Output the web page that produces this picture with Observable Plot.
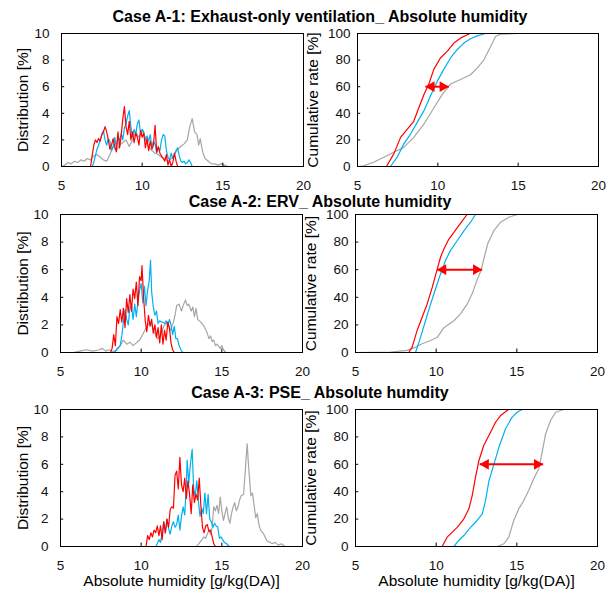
<!DOCTYPE html>
<html><head><meta charset="utf-8">
<script src="https://cdn.jsdelivr.net/npm/d3@7"></script>
<script src="https://cdn.jsdelivr.net/npm/@observablehq/plot@0.6"></script>
<style>
body{margin:0;background:#fff;}
#wrap{position:relative;width:609px;height:590px;background:#fff;overflow:hidden;}
.panel{position:absolute;}
.title{position:absolute;left:320px;transform:translateX(-50%);white-space:nowrap;font:bold 16px "Liberation Sans",Arial,sans-serif;color:#000;line-height:15px;}
</style></head><body><div id="wrap"></div>
<script>
// ---------- data ----------
const titles = ["Case A-1: Exhaust-only ventilation_ Absolute humidity", "Case A-2: ERV_ Absolute humidity", "Case A-3: PSE_ Absolute humdity"];
const xLabel = "Absolute humidity [g/kg(DA)]";
const distLabel = "Distribution [%]";
const cumLabel = "Cumulative rate [%]";
const xTicks = [5, 10, 15, 20];
const distTicks = [0, 2, 4, 6, 8, 10];
const cumTicks = [0, 20, 40, 60, 80, 100];

// Case A-1 distributions [x, %]
const distA1Grey = [[5.0,0],[5.2,0.1],[5.4,0.3],[5.6,0.2],[5.8,0.4],[6.0,0.3],[6.2,0.5],[6.4,0.4],[6.6,0.6],[6.8,0.5],[7.0,0.8],[7.2,0.9],[7.4,0.7],[7.6,0.5],[7.8,0.4],[8.0,0.9],[8.2,1.5],[8.4,1.2],[8.6,1.6],[8.8,1.8],[9.0,2.0],[9.2,1.5],[9.4,2.0],[9.6,2.6],[9.8,2.2],[10.0,2.7],[10.2,2.0],[10.4,1.5],[10.6,1.2],[10.8,1.0],[11.0,0.9],[11.2,0.7],[11.4,0.6],[11.6,0.4],[11.8,0.6],[12.0,0.9],[12.2,1.3],[12.4,1.5],[12.6,1.7],[12.8,2.0],[12.95,3.0],[13.1,3.6],[13.25,2.6],[13.4,2.4],[13.5,1.6],[13.6,2.1],[13.75,1.1],[13.9,0.6],[14.1,0.4],[14.3,0.2],[14.5,0.2],[14.7,0.1],[14.9,0.2],[15.1,0.1],[15.3,0],[20,0]];
const distA1Blue = [[5,0],[6.9,0],[7.0,0.3],[7.1,0.8],[7.2,1.3],[7.3,1.6],[7.4,2.0],[7.5,2.4],[7.6,2.7],[7.7,2.0],[7.8,1.6],[7.9,2.1],[8.0,1.9],[8.1,1.2],[8.2,1.5],[8.3,2.2],[8.4,1.4],[8.5,2.3],[8.6,1.9],[8.7,2.5],[8.8,2.0],[8.9,2.9],[9.0,3.2],[9.1,3.8],[9.2,4.2],[9.3,3.0],[9.4,2.2],[9.5,2.8],[9.6,2.4],[9.7,3.2],[9.8,3.5],[9.9,2.5],[10.0,2.8],[10.1,2.6],[10.2,2.0],[10.3,2.3],[10.4,1.9],[10.5,2.4],[10.6,1.5],[10.7,1.9],[10.8,1.7],[10.9,1.0],[11.0,1.4],[11.1,1.2],[11.2,2.0],[11.3,2.4],[11.4,2.3],[11.5,1.2],[11.6,0.7],[11.7,0.5],[11.8,1.0],[11.9,0.6],[12.0,0.9],[12.1,1.2],[12.2,1.4],[12.3,0.8],[12.4,0.4],[12.5,0.3],[12.6,0.4],[12.7,0.2],[12.8,0.3],[12.9,0.5],[13.0,0.3],[13.1,0],[20,0]];
const distA1Red = [[6.8,0],[6.9,0.8],[7.0,1.6],[7.1,2.0],[7.2,1.8],[7.3,2.1],[7.4,1.9],[7.5,2.4],[7.6,2.6],[7.7,3.0],[7.8,2.6],[7.9,2.0],[8.0,1.3],[8.1,1.6],[8.2,2.1],[8.3,1.5],[8.4,1.1],[8.5,2.6],[8.6,1.4],[8.7,2.3],[8.8,3.6],[8.9,4.5],[9.0,3.0],[9.1,2.4],[9.2,3.4],[9.3,2.0],[9.4,2.6],[9.5,1.8],[9.6,2.5],[9.7,2.2],[9.8,1.6],[9.9,2.7],[10.0,2.2],[10.1,2.5],[10.2,1.4],[10.3,2.1],[10.4,1.2],[10.5,1.9],[10.6,1.3],[10.7,1.6],[10.8,3.1],[10.9,1.1],[11.0,1.5],[11.1,1.0],[11.2,0.8],[11.3,0.6],[11.4,0.4],[11.5,0.9],[11.6,0.1],[11.7,0.5],[11.8,0.0],[11.9,0.3],[12.0,1.0],[12.1,0.4],[12.2,0],[20,0]];

// Case A-2 distributions
const distA2Grey = [[5,0],[5.8,0],[6.2,0.1],[6.6,0.2],[7.0,0.1],[7.4,0.2],[7.6,0.3],[7.8,0.1],[8.0,0.2],[8.2,0.1],[8.4,0.1],[8.5,0.3],[8.7,0.5],[8.9,0.9],[9.1,0.6],[9.3,0.75],[9.5,0.5],[9.7,0.7],[9.9,0.9],[10.1,1.3],[10.3,1.8],[10.5,2.1],[10.6,2.2],[10.8,1.5],[11.0,1.0],[11.2,1.2],[11.4,1.9],[11.6,2.2],[11.8,1.6],[12.0,2.2],[12.1,2.7],[12.2,3.4],[12.35,3.5],[12.5,3.0],[12.6,3.4],[12.75,3.8],[12.85,3.4],[12.95,3.5],[13.1,3.0],[13.2,3.3],[13.3,2.6],[13.4,3.2],[13.5,2.4],[13.7,2.2],[13.9,1.9],[14.1,1.4],[14.2,1.0],[14.3,1.2],[14.4,0.8],[14.5,0.9],[14.6,0.5],[14.7,0.6],[14.9,0.3],[15.0,0.5],[15.1,0.2],[15.25,0],[20,0]];
const distA2Blue = [[5,0],[8.3,0],[8.5,0.2],[8.7,0.5],[8.8,1.2],[8.9,2.2],[9.0,3.1],[9.1,2.4],[9.2,2.0],[9.3,3.2],[9.4,3.4],[9.5,2.4],[9.6,3.5],[9.7,2.6],[9.8,3.7],[9.9,4.5],[10.0,5.0],[10.1,3.6],[10.2,4.8],[10.3,3.4],[10.4,4.5],[10.5,5.2],[10.58,6.7],[10.65,4.4],[10.75,3.3],[10.85,2.7],[10.95,3.0],[11.05,2.1],[11.15,2.3],[11.25,2.2],[11.35,2.2],[11.45,2.1],[11.55,2.3],[11.65,1.9],[11.75,2.4],[11.85,2.0],[11.95,1.3],[12.05,1.9],[12.15,1.0],[12.25,1.0],[12.35,0.5],[12.5,0.1],[12.6,0],[20,0]];
const distA2Red = [[5,0],[8.1,0],[8.2,0.3],[8.3,1.3],[8.4,0.5],[8.5,2.6],[8.6,2.1],[8.7,3.1],[8.8,2.2],[8.9,3.2],[9.0,1.8],[9.1,3.9],[9.2,2.9],[9.3,4.2],[9.4,3.0],[9.5,4.6],[9.6,3.9],[9.7,5.1],[9.8,3.4],[9.9,5.5],[10.0,5.2],[10.05,6.3],[10.15,4.0],[10.25,2.3],[10.35,1.5],[10.45,2.7],[10.55,1.9],[10.65,2.4],[10.75,1.4],[10.85,2.0],[10.95,1.1],[11.05,1.8],[11.15,0.7],[11.25,2.0],[11.35,0.6],[11.45,1.6],[11.55,0.9],[11.65,2.2],[11.75,1.8],[11.85,0.7],[11.95,0.2],[12.05,0],[20,0]];

// Case A-3 distributions
const distA3Grey = [[5,0],[13.4,0],[13.5,0.1],[13.7,0.4],[13.9,0.7],[14.0,0.6],[14.2,1.2],[14.3,0.9],[14.4,1.4],[14.5,2.9],[14.6,2.6],[14.7,3.0],[14.8,2.4],[14.9,3.6],[15.0,2.6],[15.1,1.9],[15.2,2.4],[15.3,2.9],[15.4,2.1],[15.5,1.7],[15.6,2.4],[15.7,2.9],[15.8,3.2],[15.9,2.6],[16.0,2.9],[16.1,3.4],[16.2,3.7],[16.35,3.8],[16.45,5.5],[16.57,7.5],[16.65,6.0],[16.72,4.9],[16.8,3.7],[16.9,3.9],[17.0,3.0],[17.1,2.1],[17.2,2.4],[17.3,1.6],[17.4,1.2],[17.6,0.9],[17.8,0.4],[18.0,0.3],[18.1,0.2],[18.3,0.3],[18.5,0.1],[18.7,0.2],[18.9,0],[20,0]];
const distA3Blue = [[5,0],[10.9,0],[11.0,0.2],[11.1,0.5],[11.2,0.3],[11.3,1.0],[11.4,1.8],[11.5,1.0],[11.6,2.0],[11.7,1.3],[11.8,0.9],[11.9,1.5],[12.0,1.8],[12.1,1.4],[12.2,1.6],[12.3,2.3],[12.4,1.2],[12.5,2.2],[12.6,2.9],[12.7,2.3],[12.8,4.5],[12.85,6.3],[12.95,4.6],[13.05,6.0],[13.16,7.1],[13.25,4.3],[13.35,3.6],[13.45,4.8],[13.55,3.3],[13.65,2.2],[13.75,2.8],[13.85,2.4],[13.95,3.9],[14.05,2.4],[14.15,3.8],[14.25,2.0],[14.35,1.8],[14.45,1.4],[14.55,1.7],[14.65,1.5],[14.75,1.4],[14.85,0.6],[14.95,0.7],[15.05,0.5],[15.15,0.3],[15.3,0.2],[15.45,0],[20,0]];
const distA3Red = [[5,0],[10.3,0],[10.4,0.8],[10.5,0.5],[10.6,1.0],[10.7,0.7],[10.8,1.2],[10.9,1.0],[11.0,1.5],[11.1,0.8],[11.2,1.5],[11.3,0.5],[11.4,1.8],[11.5,1.0],[11.6,2.0],[11.7,1.4],[11.8,2.7],[11.9,2.9],[12.0,2.8],[12.1,5.2],[12.2,5.5],[12.3,4.2],[12.4,6.5],[12.5,4.5],[12.6,4.0],[12.7,5.0],[12.8,3.5],[12.9,4.8],[13.0,3.8],[13.1,2.4],[13.2,4.5],[13.3,3.2],[13.4,3.8],[13.5,3.4],[13.6,5.0],[13.7,3.0],[13.8,1.4],[13.9,1.0],[14.0,1.5],[14.1,1.6],[14.2,1.1],[14.3,1.2],[14.4,0.7],[14.5,0.2],[14.6,0],[20,0]];

// Cumulative rates [x, %]
const cumA1Grey = [[5,0],[5.39,0.5],[6.0,3.2],[6.64,7],[7.26,10.7],[7.88,14.4],[8.5,21.9],[9.13,31.8],[9.75,44],[10.27,54],[10.79,62],[11.41,65.4],[12.03,69],[12.45,74],[12.86,80],[13.28,90],[13.59,97.8],[13.9,99.5],[14.94,100],[20,100]];
const cumA1Blue = [[5,0],[7.05,0],[7.47,7],[7.88,17],[8.3,24.4],[8.71,33],[9.13,41.8],[9.54,53],[9.96,64],[10.37,73],[10.79,81.6],[11.2,87.8],[11.62,92.8],[12.03,96],[12.45,98.2],[12.97,100],[20,100]];
const cumA1Red = [[5,0],[6.8,0],[7.26,9.5],[7.68,21.9],[8.09,28],[8.5,34],[8.81,44],[9.13,54],[9.44,62],[9.75,73],[10.16,81.6],[10.58,86.6],[11.0,92.8],[11.41,96.5],[11.83,99],[12.0,100],[20,100]];
const cumA2Grey = [[5,0],[7.17,0.3],[8.2,1.5],[8.72,3.9],[9.13,6.3],[9.65,8.7],[10.07,11],[10.48,18],[11.1,23],[11.51,28],[11.92,35],[12.23,42.5],[12.55,53],[12.8,60],[13.0,70],[13.2,79],[13.58,88.4],[13.99,94.4],[14.5,98],[15.03,100],[20,100]];
const cumA2Blue = [[5,0],[8.72,0],[9.03,11],[9.34,23],[9.65,35],[9.96,46],[10.27,57],[10.58,66.7],[10.89,74],[11.3,81],[11.71,88],[12.13,94.4],[12.44,100],[20,100]];
const cumA2Red = [[5,0],[8.3,0],[8.51,3.9],[8.82,16],[9.13,25.6],[9.44,35],[9.75,47],[10.07,60.6],[10.27,69],[10.48,75],[10.78,82],[11.1,87],[11.4,92],[11.71,96.9],[11.92,100],[20,100]];
const cumA3Grey = [[5,0],[13.78,0],[14.2,2],[14.5,6.8],[14.81,19],[15.12,27.5],[15.43,33.6],[15.74,41],[16.05,49.4],[16.36,56.7],[16.57,68.8],[16.78,82],[17.09,92],[17.4,98],[17.91,100],[20,100]];
const cumA3Blue = [[5,0],[11.1,0],[11.4,4.4],[11.71,8],[12.13,14],[12.54,19],[12.86,23.8],[13.06,33.6],[13.27,48],[13.58,60],[13.89,72.5],[14.3,86],[14.71,94.4],[15.02,98],[15.33,100],[20,100]];
const cumA3Red = [[5,0],[10.37,0],[10.68,6.8],[11.0,10.5],[11.3,14],[11.71,20],[12.03,27.5],[12.23,37],[12.44,50.6],[12.65,62.8],[12.95,73.7],[13.37,83.4],[13.68,90.7],[13.99,95.6],[14.4,99.3],[14.5,100],[20,100]];

// double-headed arrows (from red curve to grey curve at 60 %)
const arrowA1 = [{x1: 9.23, x2: 10.68, y: 60}];
const arrowA2 = [{x1: 10.06, x2: 12.85, y: 60}];
const arrowA3 = [{x1: 12.7, x2: 16.63, y: 60}];

// ---------- drawing ----------
const GREY = "#A6A6A6", BLUE = "#00B0F0", RED = "#FF0000";
const FONT = '"Liberation Sans", Arial, sans-serif';
const wrap = document.getElementById("wrap");

function panel(o) {
  const marks = [];
  o.series.forEach(([data, color]) => {
    marks.push(Plot.line(data, {x: d => d[0], y: d => d[1], stroke: color, strokeWidth: 1.2}));
  });
  if (o.arrows) {
    marks.push(Plot.link(o.arrows, {x1: "x1", x2: "x2", y1: "y", y2: "y", stroke: RED, strokeWidth: 2}));
    marks.push(Plot.dot(o.arrows, {x: "x1", y: "y", symbol: "triangle", rotate: -90, r: 4, fill: RED, stroke: "none", dx: 6}));
    marks.push(Plot.dot(o.arrows, {x: "x2", y: "y", symbol: "triangle", rotate: 90, r: 4, fill: RED, stroke: "none", dx: -6}));
  }
  marks.push(Plot.ruleX(xTicks.slice(1, -1), {x: d => d, y1: o.yTicks[0], y2: o.yTicks[0] + o.tickLenY, stroke: "black"}));
  marks.push(Plot.ruleY(o.yTicks.slice(1, -1), {y: d => d, x1: xTicks[0], x2: xTicks[0] + 0.2, stroke: "black"}));
  marks.push(Plot.frame({stroke: "black"}));
  marks.push(Plot.axisX({ticks: xTicks, tickSize: 0, tickPadding: 14, label: null, fontSize: 13.5}));
  marks.push(Plot.axisY({ticks: o.yTicks, tickSize: 0, tickPadding: o.yPad, label: null, fontSize: 13.5}));
  marks.push(Plot.text([o.yLabel], {text: d => d, frameAnchor: "left", textAnchor: "middle", lineAnchor: "middle", rotate: -90, dx: o.ylabDx, fontSize: 15.5, fill: "black"}));
  if (o.xLabel) marks.push(Plot.text([o.xLabel], {text: d => d, frameAnchor: "bottom", textAnchor: "middle", lineAnchor: "middle", dy: 35, fontSize: 15.5, fill: "black"}));
  const svg = Plot.plot({
    width: o.w, height: o.h,
    marginLeft: o.ml, marginRight: o.mr, marginTop: o.mt, marginBottom: o.mb,
    style: {background: "transparent", overflow: "visible", fontFamily: FONT, color: "#111"},
    x: {domain: [xTicks[0], xTicks[xTicks.length - 1]]},
    y: {domain: [o.yTicks[0], o.yTicks[o.yTicks.length - 1]]},
    marks
  });
  svg.classList.add("panel");
  svg.style.left = o.left + "px";
  svg.style.top = o.top + "px";
  wrap.appendChild(svg);
}

const rows = [
  {top: 0, h: 190, mt: 33, mb: 24, dist: [distA1Grey, distA1Blue, distA1Red], cum: [cumA1Grey, cumA1Blue, cumA1Red], arrows: arrowA1, lml: 61, lmr: 2, rml: 57, rmr: 11, ldx: -38},
  {top: 190, h: 190, mt: 24, mb: 28, dist: [distA2Grey, distA2Blue, distA2Red], cum: [cumA2Grey, cumA2Blue, cumA2Red], arrows: arrowA2, lml: 60, lmr: 3, rml: 55, rmr: 12, ldx: -37},
  {top: 380, h: 210, mt: 29, mb: 44, dist: [distA3Grey, distA3Blue, distA3Red], cum: [cumA3Grey, cumA3Blue, cumA3Red], arrows: arrowA3, lml: 60, lmr: 3, rml: 55, rmr: 12, ldx: -37, xLabel: xLabel}
];
const titleY = [9, 194, 385];

rows.forEach((r, i) => {
  panel({left: 0, top: r.top, w: 305, h: r.h, ml: r.lml, mr: r.lmr, mt: r.mt, mb: r.mb,
    yTicks: distTicks, tickLenY: 0.25, yPad: 12, yLabel: distLabel, ylabDx: r.ldx, xLabel: r.xLabel,
    series: [[r.dist[0], GREY], [r.dist[1], BLUE], [r.dist[2], RED]]});
  panel({left: 300, top: r.top, w: 309, h: r.h, ml: r.rml, mr: r.rmr, mt: r.mt, mb: r.mb,
    yTicks: cumTicks, tickLenY: 2.5, yPad: 7, yLabel: cumLabel, ylabDx: -44, xLabel: r.xLabel,
    series: [[r.cum[0], GREY], [r.cum[1], BLUE], [r.cum[2], RED]], arrows: r.arrows});
  const t = document.createElement("div");
  t.className = "title";
  t.style.top = titleY[i] + "px";
  t.textContent = titles[i];
  wrap.appendChild(t);
});
</script></body></html>
